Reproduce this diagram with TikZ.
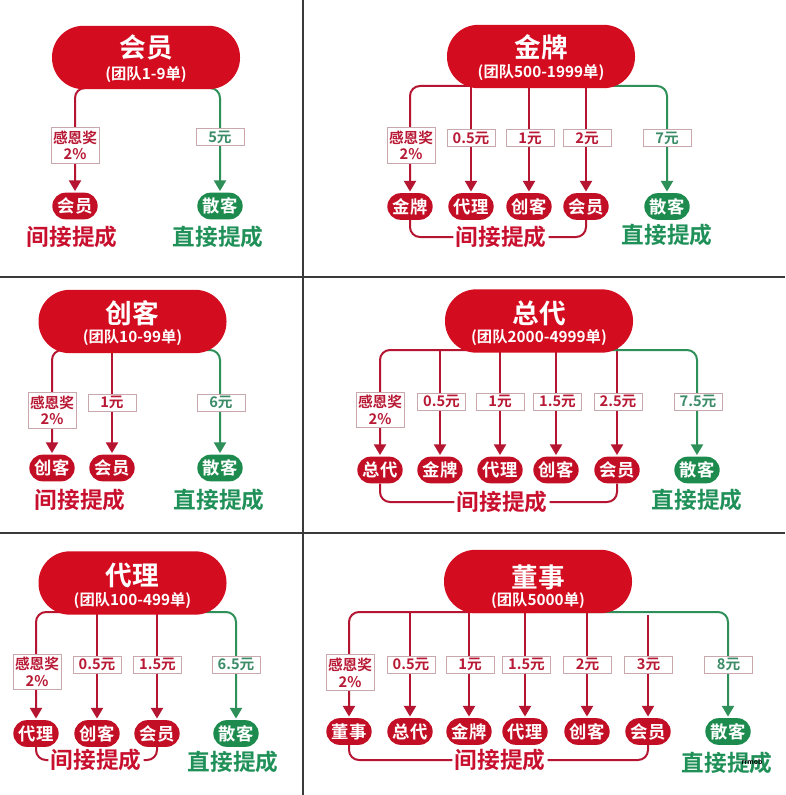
\documentclass[tikz,border=0pt]{standalone}
\usepackage{fontspec}
\setmainfont{Noto Sans CJK SC}[BoldFont={Noto Sans CJK SC Bold}]
\usetikzlibrary{arrows.meta,backgrounds}
\newcommand\myfs[1]{\fontsize{#1}{#1}\selectfont}
\definecolor{pillred}{HTML}{D40C1F}
\definecolor{nodered}{HTML}{C30F25}
\definecolor{linered}{HTML}{B51530}
\definecolor{textred}{HTML}{C8102E}
\definecolor{boxred}{HTML}{B81A35}
\definecolor{boxgray}{HTML}{C8A8AC}
\definecolor{nodegreen}{HTML}{1E8B4E}
\definecolor{linegreen}{HTML}{2E9058}
\definecolor{textgreen}{HTML}{1F9058}
\definecolor{boxgreen}{HTML}{3C8C68}
\definecolor{gridc}{HTML}{3A3A3A}
\begin{document}
\begin{tikzpicture}[x=0.75pt,y=-0.75pt,
  pill/.style={fill=pillred, rounded corners=23.5pt, minimum width=141pt, minimum height=47.5pt, inner sep=0pt},
  ttl/.style={text=white, font=\bfseries\myfs{20pt}, inner sep=0pt},
  sub/.style={text=white, font=\bfseries\myfs{11.5pt}, inner sep=0pt},
  mr/.style={fill=nodered, text=white, font=\bfseries\myfs{13pt}, rounded corners=10pt, minimum width=34pt, minimum height=20pt, inner sep=0pt},
  mg/.style={mr, fill=nodegreen},
  lr/.style={draw=boxgray, line width=0.6pt, fill=white, text=boxred, font=\bfseries\myfs{11pt}, minimum width=36pt, minimum height=12.75pt, inner sep=0pt, align=center},
  lg/.style={lr, text=boxgreen},
  lr2/.style={lr, minimum height=26.5pt, font=\bfseries\fontsize{11pt}{12.5pt}\selectfont},
  rl/.style={draw=linered, line width=1.5pt, -{Triangle[length=8pt,width=9pt]}, shorten >=1pt},
  gl/.style={rl, draw=linegreen},
  bl/.style={draw=linered, line width=1.5pt},
  rc/.style={rounded corners=7.5pt},
  ti/.style={text=textred, font=\bfseries\myfs{17pt}, fill=white, inner sep=1.5pt},
  tg/.style={text=textgreen, font=\bfseries\myfs{17pt}, inner sep=1.5pt}]
\useasboundingbox (0,0) rectangle (785,795);

% ---------- Panel 1: 会员 ----------
\node[pill] (p1) at (146,57.5) {};
\node[ttl] (p1t) at (146,47) {会员};
\node[sub] (p1s) at (146,75) {(团队1-9单)};
\coordinate (h1) at (0,88);
\node[lr2] (l11) at (75,145.5) {感恩奖\\2\%};
\node[lg] (l12) at (220,137) {5元};
\node[mr] (m11) at (75,206) {会员};
\node[mg] (g1) at (220,206) {散客};
\node[ti] (t1) at (72,237) {间接提成};
\node[tg] (u1) at (218,237) {直接提成};

% ---------- Panel 2: 金牌 ----------
\node[pill] (p2) at (541,56.5) {};
\node[ttl] (p2t) at (541,47) {金牌};
\node[sub] (p2s) at (541,73) {(团队500-1999单)};
\coordinate (h2) at (0,86);
\node[lr2] (l21) at (411,145.5) {感恩奖\\2\%};
\node[lr] (l22) at (471,138) {0.5元};
\node[lr] (l23) at (530,138) {1元};
\node[lr] (l24) at (587,138) {2元};
\node[lg] (l25) at (667,138) {7元};
\node[mr] (m21) at (410,206.5) {金牌};
\node[mr] (m22) at (471,206.5) {代理};
\node[mr] (m23) at (529,206.5) {创客};
\node[mr] (m24) at (586,206.5) {会员};
\node[mg] (g2) at (667,206.5) {散客};
\node[ti] (t2) at (501,237) {间接提成};
\node[tg] (u2) at (667,235) {直接提成};

% ---------- Panel 3: 创客 ----------
\node[pill] (p3) at (132.5,321.5) {};
\node[ttl] (p3t) at (132.5,313) {创客};
\node[sub] (p3s) at (132.5,338) {(团队10-99单)};
\coordinate (h3) at (0,350);
\node[lr2] (l31) at (52,410.5) {感恩奖\\2\%};
\node[lr] (l32) at (112,402.5) {1元};
\node[lg] (l33) at (221,402.5) {6元};
\node[mr] (m31) at (52,468) {创客};
\node[mr] (m32) at (112,468) {会员};
\node[mg] (g3) at (220,468) {散客};
\node[ti] (t3) at (80,500) {间接提成};
\node[tg] (u3) at (219,500) {直接提成};

% ---------- Panel 4: 总代 ----------
\node[pill] (p4) at (539,321) {};
\node[ttl] (p4t) at (539,313) {总代};
\node[sub] (p4s) at (539,338) {(团队2000-4999单)};
\coordinate (h4) at (0,350);
\coordinate (h4b) at (0,345);
\node[lr2] (l41) at (380,410) {感恩奖\\2\%};
\node[lr] (l42) at (441.5,401.5) {0.5元};
\node[lr] (l43) at (500,401.5) {1元};
\node[lr] (l44) at (557.5,401.5) {1.5元};
\node[lr] (l45) at (618,401.5) {2.5元};
\node[lg] (l46) at (698,401.5) {7.5元};
\node[mr] (m41) at (380,470) {总代};
\node[mr] (m42) at (440,470) {金牌};
\node[mr] (m43) at (500,470) {代理};
\node[mr] (m44) at (556,470) {创客};
\node[mr] (m45) at (617,470) {会员};
\node[mg] (g4) at (697,470) {散客};
\node[ti] (t4) at (502,502) {间接提成};
\node[tg] (u4) at (697,500) {直接提成};

% ---------- Panel 5: 代理 ----------
\node[pill] (p5) at (132.5,583) {};
\node[ttl] (p5t) at (132.5,575) {代理};
\node[sub] (p5s) at (132.5,601) {(团队100-499单)};
\coordinate (h5) at (0,612);
\node[lr2] (l51) at (37,672) {感恩奖\\2\%};
\node[lr] (l52) at (97,664.5) {0.5元};
\node[lr] (l53) at (157.5,664.5) {1.5元};
\node[lg] (l54) at (236,664.5) {6.5元};
\node[mr] (m51) at (36,733.5) {代理};
\node[mr] (m52) at (97,733.5) {创客};
\node[mr] (m53) at (157,733.5) {会员};
\node[mg] (g5) at (236,733.5) {散客};
\node[ti] (t5) at (96,760) {间接提成};
\node[tg] (u5) at (233,762) {直接提成};

% ---------- Panel 6: 董事 ----------
\node[pill] (p6) at (538,581.5) {};
\node[ttl] (p6t) at (538,577) {董事};
\node[sub] (p6s) at (538,601) {(团队5000单)};
\coordinate (h6) at (0,612);
\coordinate (h6b) at (0,607);
\coordinate (h6c) at (0,615);
\node[lr2] (l61) at (350,672.5) {感恩奖\\2\%};
\node[lr] (l62) at (411,664.5) {0.5元};
\node[lr] (l63) at (470,664.5) {1元};
\node[lr] (l64) at (526.5,664.5) {1.5元};
\node[lr] (l65) at (587.5,664.5) {2元};
\node[lr] (l66) at (648.5,664.5) {3元};
\node[lg] (l67) at (728.5,664.5) {8元};
\node[mr] (m61) at (349,731.5) {董事};
\node[mr] (m62) at (410,731.5) {总代};
\node[mr] (m63) at (469,731.5) {金牌};
\node[mr] (m64) at (525,731.5) {代理};
\node[mr] (m65) at (587,731.5) {创客};
\node[mr] (m66) at (648,731.5) {会员};
\node[mg] (g6) at (728,731.5) {散客};
\node[ti] (t6) at (500,760) {间接提成};
\node[tg] (u6) at (727,763) {直接提成};
\node[text=black, font=\bfseries\myfs{5pt}, inner sep=0pt] (wm) at (752,762) {rrmob};

\begin{scope}[on background layer]
  \fill[white] (0,0) rectangle (785,795);
  \draw[gridc, line width=0.9pt] (303,0) -- (303,795);
  \draw[gridc, line width=0.9pt] (0,277) -- (785,277);
  \draw[gridc, line width=0.9pt] (0,533) -- (785,533);
  % panel 1
  \draw[rl,rc] (p1.center |- h1) -| (m11);
  \draw[gl,rc] (p1.center |- h1) -| (g1);
  % panel 2
  \draw[rl,rc] (p2.center |- h2) -| (m21);
  \draw[rl] (m22 |- h2) -- (m22);
  \draw[rl] (m23 |- h2) -- (m23);
  \draw[rl] (m24 |- h2) -- (m24);
  \draw[gl,rc] (p2.center |- h2) -| (g2);
  \draw[bl,rc] (m21) |- (t2) -| (m24);
  % panel 3
  \draw[rl,rc] (p3.center |- h3) -| (m31);
  \draw[rl] (m32 |- h3) -- (m32);
  \draw[gl,rc] (p3.center |- h3) -| (g3);
  % panel 4
  \draw[rl,rc] (p4.center |- h4) -| (m41);
  \draw[rl] (m42 |- h4) -- (m42);
  \draw[rl] (m43 |- h4) -- (m43);
  \draw[rl] (m44 |- h4) -- (m44);
  \draw[rl] (m45 |- h4b) -- (m45);
  \draw[gl,rc] (p4.center |- h4) -| (g4);
  \draw[bl,rc] (m41) |- (t4) -| (m45);
  % panel 5
  \draw[rl,rc] (p5.center |- h5) -| (m51);
  \draw[rl] (m52 |- h5) -- (m52);
  \draw[rl] (m53 |- h5) -- (m53);
  \draw[gl,rc] (p5.center |- h5) -| (g5);
  \draw[bl,rc] (m51) |- (t5) -| (m53);
  % panel 6
  \draw[rl,rc] (p6.center |- h6) -| (m61);
  \draw[rl] (m62 |- h6) -- (m62);
  \draw[rl] (m63 |- h6b) -- (m63);
  \draw[rl] (m64 |- h6) -- (m64);
  \draw[rl] (m65 |- h6) -- (m65);
  \draw[gl,rc] (p6.center |- h6) -| (g6);
  \draw[rl] (m66 |- h6c) -- (m66);
  \draw[bl,rc] (m61) |- (t6) -| (m66);
\end{scope}
\end{tikzpicture}
\end{document}
